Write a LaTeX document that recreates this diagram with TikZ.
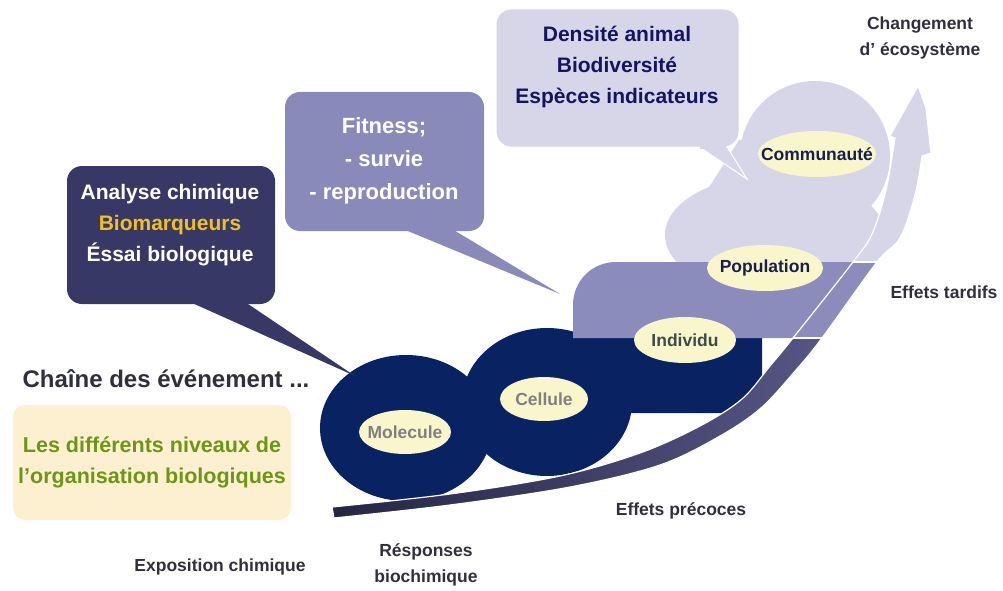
\documentclass[tikz,border=0pt]{standalone}
\usepackage{fontspec}
\setmainfont{Liberation Sans}
\usetikzlibrary{shapes.geometric}

\definecolor{navyblob}{RGB}{8,34,98}
\definecolor{midlav}{RGB}{140,140,188}
\definecolor{lightlav}{RGB}{214,214,232}
\definecolor{calloutdark}{RGB}{56,56,102}
\definecolor{calloutmid}{RGB}{138,138,186}
\definecolor{paleyellow}{RGB}{250,246,204}
\definecolor{cream}{RGB}{253,240,208}
\definecolor{leafgreen}{RGB}{108,150,24}
\definecolor{gold}{RGB}{240,192,32}
\definecolor{inkgray}{RGB}{48,48,60}
\definecolor{graytext}{RGB}{128,128,128}
\definecolor{slatetext}{RGB}{60,75,75}
\definecolor{navytext}{RGB}{25,30,80}
\definecolor{calloutink}{RGB}{20,20,100}
\definecolor{arrowleft}{RGB}{36,36,66}
\definecolor{arrowright}{RGB}{88,88,136}

\tikzset{
  lbl/.style={font=\fontsize{17.5}{26}\selectfont\bfseries, text=inkgray, align=center},
  levellbl/.style={font=\fontsize{17.5}{20}\selectfont\bfseries},
  bubbletext/.style={font=\fontsize{21}{31}\selectfont\bfseries, align=center},
  bubble/.style={rounded corners=15pt}
}

% Umriss des Pfeils
\newcommand{\swoosh}{plot[smooth, tension=0.55] coordinates {(332,507) (450,494) (560,476) (640,453) (700,426) (742,399) (770,366) (793,338) (853,262) (872,234) (886,190) (895,138)} -- (890,136) -- (918,86) -- (926,108) -- (931,153) -- plot[smooth, tension=0.55] coordinates {(922,156) (915,195) (900,238) (877,262) (822,338) (796,370) (761,408) (720,436) (660,465) (570,487) (450,505) (334,518)} -- cycle}

\begin{document}
\begin{tikzpicture}[x=1pt, y=-1pt]
    \useasboundingbox (0,0) rectangle (1003,591);
    \fill[white] (0,0) rectangle (1003,591);

    % zeichne Ebenen
    \fill[lightlav] (775,235) ellipse [x radius=110, y radius=60];
    \fill[lightlav] (815,156) circle [radius=75];
    \fill[lightlav] (739,140) -- (708,189) -- (780,230) -- (790,130) -- cycle;
    \fill[navyblob] (406,428) ellipse [x radius=86, y radius=73];
    \fill[navyblob] (547,402) ellipse [x radius=85, y radius=74];
    \fill[navyblob, rounded corners=30pt] (590,300) rectangle (762,413);
    \fill[midlav] (573,338) -- (573,305) .. controls (573,281) and (592,262) .. (616,262) -- (858,262) -- (800,338) -- cycle;

    % zeichne Pfeil
    \begin{scope}
        \clip \swoosh;
        \fill[lightlav] (820,60) rectangle (960,262);
        \fill[midlav] (740,262) rectangle (960,338);
        \shade[left color=arrowleft, right color=arrowright] (320,338) rectangle (840,525);
        \draw[white, line width=2pt] (740,262) -- (960,262) (700,338) -- (960,338);
    \end{scope}
    \draw[white, line width=1.2pt] \swoosh;

    % zeichne Ellipsen
    \fill[paleyellow] (405,432) ellipse [x radius=46, y radius=22];
    \fill[paleyellow] (544,399) ellipse [x radius=44, y radius=22];
    \fill[paleyellow] (685,340) ellipse [x radius=51, y radius=23];
    \fill[paleyellow] (765,268) ellipse [x radius=58, y radius=23];
    \fill[paleyellow] (817,154) ellipse [x radius=59, y radius=23];
    \node[levellbl, text=graytext] (molecule) at (405,432) {Molecule};
    \node[levellbl, text=graytext] (cellule) at (544,399) {Cellule};
    \node[levellbl, text=slatetext] (individu) at (685,340) {Individu};
    \node[levellbl, text=navytext] (population) at (765,268) {Population};
    \node[levellbl, text=navytext] (communaute) at (817,154) {Communaut\'e};

    % zeichne Sprechblasen
    \fill[calloutdark, bubble] (67,166) rectangle (275,304);
    \fill[calloutdark] (190,302) -- (355,376) -- (245,302) -- cycle;
    \node[bubbletext, text=white] (analyse) at (170,225) {Analyse chimique\\\textcolor{gold}{Biomarqueurs}\\Éssai biologique};

    \fill[calloutmid, bubble] (285,92) rectangle (484,231);
    \fill[calloutmid] (403,229) -- (560,294) -- (452,229) -- cycle;
    \node[bubbletext, text=white, font=\fontsize{22}{33}\selectfont\bfseries] (fitness) at (384,161) {Fitness;\\- survie\\- reproduction};

    \fill[lightlav] (692,142) -- (747,179) -- (724,142) -- cycle;
    \draw[white, line width=1pt] (699.4,147) -- (747,179) -- (727.1,147);
    \draw[bubble, fill=lightlav, draw=white, line width=1pt] (496,9) rectangle (739,147);
    \fill[lightlav] (700,146) rectangle (726,149);
    \node[bubbletext, text=calloutink] (densite) at (617,67) {Densité animal\\Biodiversité\\Espèces indicateurs};

    % zeichne Labels
    \node[lbl] (changement) at (920,38) {Changement\\d’ écosystème};
    \node[lbl] (tardifs) at (944,292) {Effets tardifs};
    \node[lbl] (precoces) at (681,511) {Effets précoces};
    \node[lbl] (exposition) at (220,567) {Exposition chimique};
    \node[lbl] (reponses) at (426,565) {Résponses\\biochimique};
    \node[font=\fontsize{24}{28}\selectfont\bfseries, text=inkgray] (chaine) at (166,379) {Chaîne des événement ...};

    % zeichne Legende
    \fill[cream, rounded corners=12pt] (13,405) rectangle (291,520);
    \node[font=\fontsize{21.5}{31}\selectfont\bfseries, text=leafgreen, align=center] (niveaux) at (152,462) {Les différents niveaux de\\l’organisation biologiques};
\end{tikzpicture}
\end{document}
